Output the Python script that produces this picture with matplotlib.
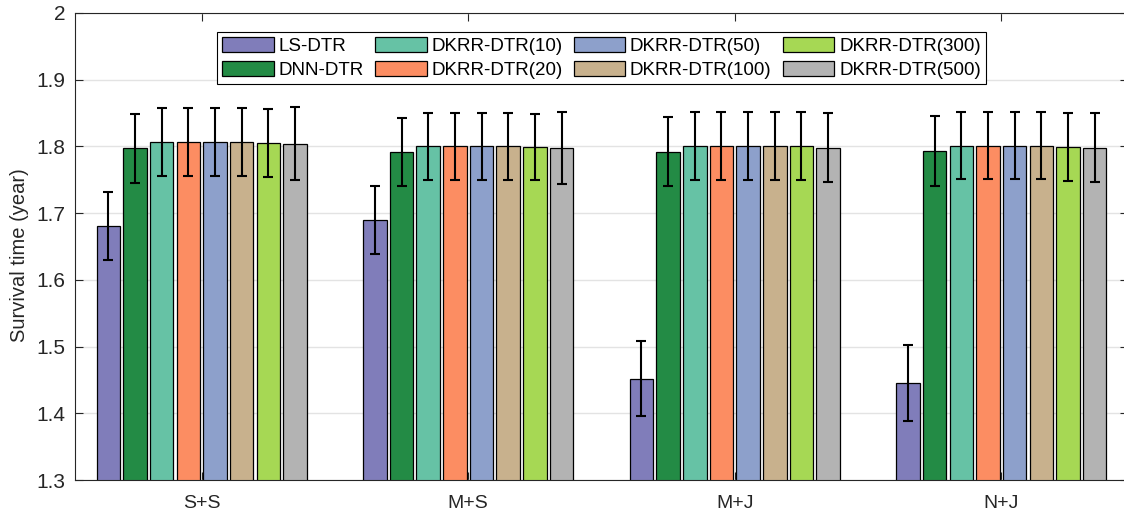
import numpy as np
import matplotlib.pyplot as plt

plt.rcParams['font.family'] = ['Liberation Sans', 'DejaVu Sans']

groups = ["S+S", "M+S", "M+J", "N+J"]
methods = ["LS-DTR", "DNN-DTR", "DKRR-DTR(10)", "DKRR-DTR(20)",
           "DKRR-DTR(50)", "DKRR-DTR(100)", "DKRR-DTR(300)", "DKRR-DTR(500)"]

# mean survival time per method, one value per group
ls_dtr = [1.681, 1.690, 1.452, 1.445]
dnn_dtr = [1.797, 1.791, 1.792, 1.793]
dkrr_10 = [1.806, 1.800, 1.801, 1.801]
dkrr_20 = [1.806, 1.800, 1.801, 1.801]
dkrr_50 = [1.806, 1.800, 1.801, 1.801]
dkrr_100 = [1.806, 1.800, 1.801, 1.801]
dkrr_300 = [1.805, 1.799, 1.800, 1.799]
dkrr_500 = [1.804, 1.797, 1.798, 1.798]

# half width of error bars
ls_err = [0.051, 0.051, 0.056, 0.057]
dnn_err = [0.052, 0.051, 0.052, 0.052]
dkrr_10_err = [0.051, 0.050, 0.051, 0.050]
dkrr_20_err = [0.051, 0.050, 0.051, 0.050]
dkrr_50_err = [0.051, 0.050, 0.051, 0.050]
dkrr_100_err = [0.051, 0.050, 0.051, 0.050]
dkrr_300_err = [0.051, 0.050, 0.051, 0.051]
dkrr_500_err = [0.055, 0.054, 0.052, 0.052]

means = [ls_dtr, dnn_dtr, dkrr_10, dkrr_20, dkrr_50, dkrr_100, dkrr_300, dkrr_500]
errs = [ls_err, dnn_err, dkrr_10_err, dkrr_20_err, dkrr_50_err, dkrr_100_err,
        dkrr_300_err, dkrr_500_err]
colors = ["#807dba", "#238b45", "#66c2a5", "#fc8d62",
          "#8da0cb", "#c8b18d", "#a6d854", "#b3b3b3"]

TXT = "#262626"

fig = plt.figure(figsize=(11.24, 5.16), dpi=100)
ax = fig.add_axes([75 / 1124, 36 / 516, 1053 / 1124, 467 / 516])

x = np.arange(1, len(groups) + 1)
step = 0.1
width = 0.088
for i, (m, e, c, name) in enumerate(zip(means, errs, colors, methods)):
    pos = x + (i - 3.5) * step
    ax.bar(pos, m, width=width, color=c, edgecolor="black", linewidth=0.9,
           label=name, zorder=2)
    ax.errorbar(pos, m, yerr=e, fmt="none", ecolor="black", elinewidth=1.5,
                capsize=3.5, capthick=1.5, zorder=3)

ax.set_ylim(1.3, 2.0)
ax.set_xlim(0.525, 4.475)
ax.set_yticks(np.arange(1.3, 2.01, 0.1))
ax.set_yticklabels(["1.3", "1.4", "1.5", "1.6", "1.7", "1.8", "1.9", "2"])
ax.set_xticks(x)
ax.set_xticklabels(groups)
ax.yaxis.grid(True, color="#e3e3e3", linewidth=1.0, zorder=0)
ax.set_axisbelow(True)

ax.tick_params(direction="in", length=6, width=0.8, color=TXT,
               labelcolor=TXT, top=True, right=True)
ax.tick_params(axis="x", labelsize=14, pad=11)
ax.tick_params(axis="y", labelsize=15, pad=7)
for s in ax.spines.values():
    s.set_color(TXT)
    s.set_linewidth(0.8)

ax.set_ylabel("Survival time (year)", fontsize=14.5, color=TXT)
ax.yaxis.set_label_coords(-0.044, 0.482)

leg = ax.legend(ncol=4, loc="upper center", bbox_to_anchor=(0.5, 0.96),
                fontsize=13.5, frameon=True, fancybox=False, edgecolor="black",
                framealpha=1, handlelength=2.75, handleheight=0.85,
                handletextpad=0.25, columnspacing=0.6, labelspacing=0.3,
                borderpad=0.3, borderaxespad=0)
leg.get_frame().set_linewidth(0.8)

fig.savefig("out.png", dpi=100)
